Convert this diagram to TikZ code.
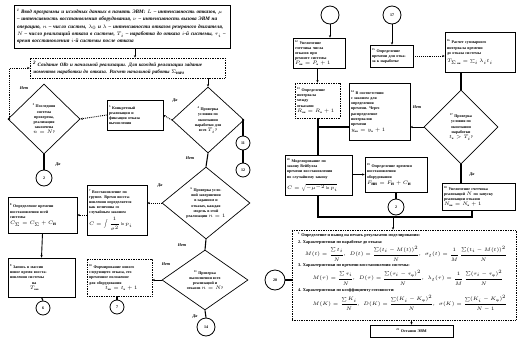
\documentclass[tikz,border=0pt]{standalone}
\usepackage{amsmath}
\usepackage{fontspec}
\setmainfont{Liberation Serif}
\usetikzlibrary{shapes.geometric,arrows.meta,calc}
\newcommand{\nn}[1]{\textsuperscript{#1}}
\begin{document}
\begin{tikzpicture}[x=1pt,y=-1pt,
  font=\fontsize{4}{5.2}\selectfont\bfseries,
  box/.style={draw, line width=0.7pt, inner sep=1.5pt, align=left},
  bx/.style n args={3}{box, minimum width=#1pt, minimum height=#2pt, text width=#3pt},
  dia/.style={draw, diamond, line width=0.7pt, inner sep=0pt, align=center},
  circ/.style={draw, circle, line width=0.8pt, inner sep=0pt},
  conn/.style={line width=1.1pt},
  arr/.style={line width=0.9pt, -{Stealth[length=2.5pt,width=2.2pt]}},
  dotarr/.style={densely dotted, line width=0.9pt, -{Stealth[length=2.5pt,width=2.2pt]}},
  lab/.style={font=\fontsize{4.2}{5}\selectfont\bfseries\itshape, inner sep=0pt},
  big/.style={font=\fontsize{4.3}{5.5}\selectfont\bfseries, inner sep=0pt, anchor=west}
]
\useasboundingbox (0,0) rectangle (517,346);

% ---------- left part ----------
\node[bx={216}{43}{210}, font=\fontsize{5.2}{7.4}\selectfont\bfseries\itshape] (b1) at (122,26.5)
 {\nn{1} Ввод программы и исходных данных в память ЭВМ: $L$ -- интенсивность отказов, $\mu$ -- интенсивность восстановления оборудования, $\nu$ -- интенсивность вызова ЭВМ на операцию, $n$ -- число систем, $\lambda_0$ и $\lambda$ -- интенсивности отказов резервного двигателя, $N$ -- число реализаций отказа в системе, $T_i$ -- наработка до отказа $i$-й системы, $\tau_i$ -- время восстановления $i$-й системы после отказа};
\node[bx={195}{20}{189}, densely dotted, font=\fontsize{5}{7}\selectfont\bfseries\itshape] (b2) at (127.5,68)
 {\nn{2} Создание ОВг и начальной реализации. Для каждой реализации задание моментов наработки до отказа. Расчет начальной работы $\Sigma_{\text{нач}}$};

\node[dia, minimum width=72pt, minimum height=70pt] (d3) at (44,119)
 {\nn{3} Последняя\\система\\проверена,\\реализация\\закончена\\$n=N$?};
\node[dia, minimum width=72pt, minimum height=66pt] (d4) at (208,120)
 {\nn{4} Проверка\\условия по\\окончании\\наработки для\\всех $T_i$?};
\node[bx={56}{30}{52}] (b5) at (135,115)
 {\nn{5} Конкретный\\реализация и\\фиксация отказа\\вычисления};

\node[circ, minimum size=16pt] (c2) at (44,178) {2};
\node[circ, minimum size=14pt] (c11) at (243,143) {11};
\node[circ, minimum size=14pt] (c12) at (243,170) {12};

\node[dia, minimum width=88pt, minimum height=72pt] (d6) at (206,203)
 {\nn{6} Проверка усло-\\вий завершения\\в заданном и\\отказах, каждая\\модель в этой\\реализации $n=1$};
\node[bx={60}{50}{56}] (b7) at (117,210)
 {\nn{7} Восстановление по\\группе. Время восста-\\новления определяется\\как величина со\\случайным законом\\[2pt]
  $C=\displaystyle\int\frac{1}{\sigma^2}\ln p_i$};
\node[bx={69}{36}{65}] (b8) at (42.5,215)
 {\nn{8} Определение времени\\восстановления всей\\системы\\[1pt]
  \fontsize{5}{6}\selectfont $C_\Sigma=C_\Sigma+C_{\text{н}}$};
\node[bx={67}{39}{63}] (b9) at (41.5,277.5)
 {\nn{9} Запись в массив\\новое время восста-\\новления системы\\\hspace*{22pt}на\\\hspace*{20pt}$T_{\text{нов}}$};
\node[circ, minimum size=14pt] (c9) at (43,308) {6};
\node[bx={65}{37}{61}, densely dotted] (b10) at (119.5,277.5)
 {\nn{10} Формирование нового\\следующего отказа, его\\временное положение\\для оборудования\\\hspace*{16pt}$t_{\text{нн}}=t_{\text{н}}+1$};
\node[circ, minimum size=14pt] (c10) at (117,307) {7};
\node[dia, minimum width=86pt, minimum height=60pt] (d11) at (205,280)
 {\nn{11} Проверка\\выполнения всех\\реализаций и\\отказов $n=N$?};
\node[circ, minimum size=18pt] (c14) at (206,327) {14};

% left connectors
\draw[arr] (b1.south -| 135,0) -- (b2.north -| 135,0);
\draw[arr] (d4.north |- b2.south) -- (d4.north);
\draw[dotarr] (d3.west) -- ++(2,0) |- (b2.west);
\node[lab] at (24,88) {Нет};
\draw[dotarr] (d4.west) -- (b5.east);
\node[lab] at (175,101) {Да};
\draw[dotarr] (b5.west) -- (d3.east);
\draw[conn] (d3.south) -- (c2.north);
\node[lab] at (58,165) {Да};
\draw[conn] (d4.east) -| (c11.north);
\draw[conn] (c11.south) -- (c12.north);
\draw[conn] (d4.south) -- (d6.north);
\node[lab] at (190,158) {Нет};
\draw[dotarr] (d6.west) -- (b7.east |- d6.west);
\node[lab] at (160,186) {Да};
\draw[dotarr] (b7.west |- b8.east) -- (b8.east);
\draw[arr] (b8.south) -- (b9.north);
\draw[conn] (b9.south) -- (c9.north);
\draw[conn] (d6.south) -- (d11.north);
\node[lab] at (182,245) {Нет};
\draw[arr] (d11.west) -- (b10.east |- d11.west);
\node[lab] at (166,264) {Нет};
\draw[conn] (b10.south -| c10) -- (c10.north);
\draw[conn] (d11.south) -- (c14.north);
\node[lab] at (195,317) {Да};

% ---------- right part ----------
\node[circ, minimum size=18pt] (ca) at (330,15) {};
\node[circ, minimum size=18pt] (c17) at (392,15) {17};
\node[bx={52}{30}{48}] (b12) at (319,53)
 {\nn{12} Увеличение\\счетчика числа\\отказов при\\ремонте системы\\$P_{\text{нн}}=P_{\text{н}}+1$};
\node[bx={45}{35}{41}, densely dotted] (b13) at (317.5,100.5)
 {\nn{13} Определение\\интервала\\между\\отказами\\$R_{\text{нн}}=R_{\text{н}}+1$};
\node[bx={61}{57}{57}] (b14) at (379.5,111.5)
 {\nn{14} В соответствии\\с законом для\\определения\\времени. Через\\распределение\\интервалов\\времени\\[1pt]$y_{\text{нн}}=y_{\text{н}}+1$};
\node[bx={43}{22}{39}] (b15) at (391.5,56)
 {\nn{15} Определение\\времени для отка-\\за к наработке};
\node[bx={70}{40}{66}] (b16) at (480,52)
 {\nn{16} Расчет суммарного\\интервала времени\\до отказа системы\\[3pt]
  $T_{\Sigma\,\text{нн}}=\sum_{i}\lambda_i t_i$};
\node[dia, minimum width=74pt, minimum height=74pt] (d17) at (461,127)
 {\nn{17} Проверка\\условия по\\окончании\\наработки\\$t_{\text{н}}>T_i$?};
\node[bx={73}{27}{69}] (b18) at (478.5,196.5)
 {\nn{18} Увеличение счетчика\\реализаций $N$ по запуску\\реализации отказов\\$N_{\text{нн}}=N_{\text{н}}+1$};
\node[bx={62}{35}{58}] (b19) at (396,174.5)
 {\nn{19} Определение времени\\восстановления\\оборудования\\[1pt]
  \fontsize{5}{6}\selectfont$F_{\text{нн}}=F_{\text{н}}+C_{\text{н}}$};
\node[circ, minimum size=16pt] (c19) at (396,207) {2};
\node[bx={67}{40}{63}] (b20) at (318.5,175)
 {\nn{20} Моделирование по\\закону Вейбулла\\времени восстановления\\по случайному закону\\[4pt]
  $C=\sqrt{-\mu^{-2}\ln p_i}$};
\node[bx={224}{90}{218}, densely dotted] (b21) at (404,275) {};
\node[circ, minimum size=20pt] (c20) at (275,280) {20};
\node[bx={83}{12}{79}, align=center] (b22) at (411.5,331) {\nn{21} Останов ЭВМ};

% texts inside box 21
\node[big] (t1) at (298,235) {\nn{1} Определение и вывод на печать результатов моделирования:};
\node[big] (t2) at (298,242.5) {2. Характеристики по наработке до отказа:};
\node[big, anchor=center] (f1) at (406,253.5)
 {$M(t)=\dfrac{\sum t_i}{N}$,\quad $D(t)=\dfrac{\sum (t_i-M(t))^2}{N}$,\quad $\sigma_t(t)=\dfrac{1}{M}\,\dfrac{\sum (t_i-M(t))^2}{N}$};
\node[big] (t3) at (298,266) {3. Характеристики по времени восстановления системы:};
\node[big, anchor=center] (f2) at (408,277.5)
 {$M(\tau)=\dfrac{\sum \tau_i}{N}$,\quad $D(\tau)=\dfrac{\sum(\tau_i-\tau_{\text{ср}})^2}{N}$,\quad $\lambda_t(\tau)=\dfrac{1}{M}\,\dfrac{\sum(\tau_i-\tau_{\text{ср}})^2}{N}$};
\node[big] (t4) at (298,290) {4. Характеристики по коэффициенту готовности:};
\node[big, anchor=center] (f3) at (410,303.5)
 {$M(K)=\dfrac{\sum K_i}{N}$,\quad $D(K)=\dfrac{\sum(K_i-K_{\text{ср}})^2}{N}$,\quad $\sigma(K)=\dfrac{\sum(K_i-K_{\text{ср}})^2}{N-1}$};

% right connectors
\coordinate (busL) at (318,217);
\coordinate (busR) at (472,217);
\coordinate (busM) at (393,217);
\coordinate (j1) at (318,127);
\draw[arr] (ca.south) -- (b12.north -| ca);
\draw[arr] (b12.south -| b13.north) -- (b13.north);
\draw[arr] (c17.south) -- (b15.north -| c17);
\draw[dotarr] (b15.east) -- (b16.west |- b15.east);
\draw[conn] (d17.north |- b16.south) -- (d17.north);
\draw[arr] (d17.west) -- (b14.east |- d17.west);
\node[lab] at (417,107) {Нет};
\draw[conn] (d17.south) -- (b18.north -| d17);
\node[lab] at (472,175) {Да};
\draw[conn] (b13.south -| j1) -- (j1) -- (b20.north -| j1);
\draw[conn] (b14.west |- j1) -- (j1);
\draw[arr] (b20.east |- b19.west) -- (b19.west);
\draw[conn] (b19.south) -- (c19.north);
\draw[conn] (b20.south -| busL) -- (busL) -- (busR) -- (b18.south -| busR);
\draw[arr] (busM) -- (b21.north -| busM);
\draw[conn] (c20.east) -- (b21.west |- c20.east);
\draw[arr] (b21.south -| b22.north) -- (b22.north);
\end{tikzpicture}
\end{document}
